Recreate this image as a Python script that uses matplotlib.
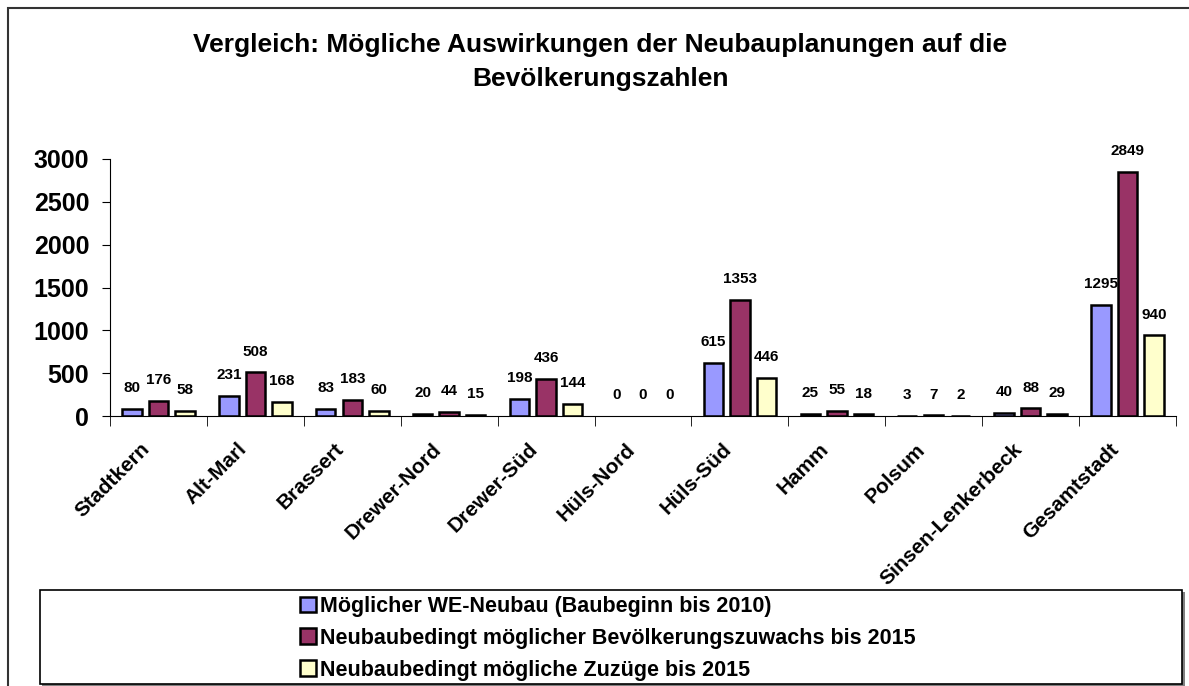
import numpy as np
import matplotlib.pyplot as plt
import matplotlib.transforms as mtransforms
from matplotlib.patches import Rectangle

plt.rcParams['font.family'] = ['Liberation Sans', 'DejaVu Sans']
plt.rcParams['font.weight'] = 'bold'

categories = ['Stadtkern', 'Alt-Marl', 'Brassert', 'Drewer-Nord', 'Drewer-Süd', 'Hüls-Nord',
              'Hüls-Süd', 'Hamm', 'Polsum', 'Sinsen-Lenkerbeck', 'Gesamtstadt']
we_neubau = [80, 231, 83, 20, 198, 0, 615, 25, 3, 40, 1295]
zuwachs = [176, 508, 183, 44, 436, 0, 1353, 55, 7, 88, 2849]
zuzuege = [58, 168, 60, 15, 144, 0, 446, 18, 2, 29, 940]

series = [
    ('Möglicher WE-Neubau (Baubeginn bis 2010)', we_neubau, '#9999FF'),
    ('Neubaubedingt möglicher Bevölkerungszuwachs bis 2015', zuwachs, '#993366'),
    ('Neubaubedingt mögliche Zuzüge bis 2015', zuzuege, '#FFFFCC'),
]

fig = plt.figure(figsize=(11.89, 6.86), dpi=100)
W, H = 1189, 686

# outer chart frame
fig.patches.append(Rectangle((8 / W, -0.05), 1.2, 1 - 8 / H + 0.05, transform=fig.transFigure,
                             fill=False, edgecolor='#333333', linewidth=1.5))
# legend box with shadow
fig.patches.append(Rectangle((42 / W, 0), 1143 / W, 94 / H, transform=fig.transFigure,
                             facecolor='#808080', edgecolor='none'))
fig.patches.append(Rectangle((40 / W, 2 / H), 1142 / W, 94 / H, transform=fig.transFigure,
                             facecolor='white', edgecolor='black', linewidth=1.2))

ax = fig.add_axes([110 / W, 1 - 416 / H, (1176 - 110) / W, (416 - 159) / H])

x = np.arange(len(categories))
offsets = [-0.274, 0, 0.274]
for (name, vals, col), off in zip(series, offsets):
    bars = ax.bar(x + off, vals, width=0.2, color=col, edgecolor='black', linewidth=1.8, label=name)
    for b, v in zip(bars, vals):
        if v == 0:
            b.set_visible(False)
    for xi, v in zip(x + off, vals):
        ax.annotate(str(v), (xi, v), xytext=(0, 15), textcoords='offset points',
                    ha='center', va='center', fontsize=11, fontweight='bold')

ax.set_xlim(-0.5, len(categories) - 0.5)
ax.set_ylim(0, 3000)
ax.set_yticks(np.arange(0, 3001, 500))
ax.tick_params(axis='y', labelsize=18, length=6, direction='out', pad=9)
ax.set_xticks(x)
ax.set_xticklabels(categories, rotation=45, ha='right', rotation_mode='anchor', fontsize=15)
ax.tick_params(axis='x', which='major', length=0, pad=17)
shift = mtransforms.ScaledTranslation(-18 / 100, 0, fig.dpi_scale_trans)
for lbl in ax.get_xticklabels():
    lbl.set_transform(lbl.get_transform() + shift)
ax.set_xticks(np.arange(-0.5, len(categories)), minor=True)
ax.tick_params(axis='x', which='minor', length=7, direction='out')
for s in ['top', 'right']:
    ax.spines[s].set_visible(False)

fig.text(0.505, 1 - 45 / H, 'Vergleich: Mögliche Auswirkungen der Neubauplanungen auf die',
         ha='center', va='center', fontsize=19, fontweight='bold')
fig.text(0.505, 1 - 79 / H, 'Bevölkerungszahlen', ha='center', va='center', fontsize=19, fontweight='bold')

fig.legend(loc='upper left', bbox_to_anchor=(300 / W, 1 - 596 / H), frameon=False,
           fontsize=15.5, handlelength=0.75, handleheight=0.75, handletextpad=0.2,
           labelspacing=0.5, borderaxespad=0, borderpad=0)

fig.savefig('out.png', dpi=100)
